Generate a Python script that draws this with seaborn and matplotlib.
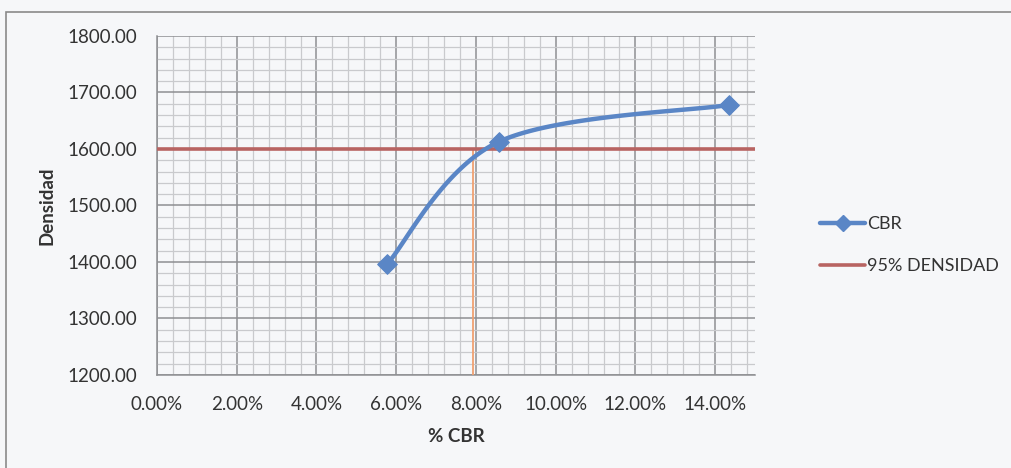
import numpy as np
import pandas as pd
import matplotlib
matplotlib.use("Agg")
import matplotlib.pyplot as plt
import seaborn as sns
from matplotlib.lines import Line2D
from matplotlib.patches import Rectangle
from matplotlib.ticker import MultipleLocator, FuncFormatter

# Ensayo CBR: porcentaje de CBR frente a densidad seca
cbr = [0.0578, 0.0858, 0.1435]
densidad = [1397.0, 1613.0, 1678.0]
densidad_95 = 1600.0
cbr_95 = 0.0793

x_ticks = [0.00, 0.02, 0.04, 0.06, 0.08, 0.10, 0.12, 0.14]
y_ticks = [1200, 1300, 1400, 1500, 1600, 1700, 1800]

serie_cbr = "CBR"
serie_95 = "95% DENSIDAD"

BLUE = "#5a86c6"
RED = "#b86462"
ORANGE = "#f0a070"
BG = "#f6f7f9"

sns.set_theme(style="white")
plt.rcParams["font.family"] = ["Lato", "DejaVu Sans"]

fig = plt.figure(figsize=(10.12, 4.68), dpi=100, facecolor=BG)
ax = fig.add_axes([157 / 1012, 1 - 375 / 468, (755 - 157) / 1012, (375 - 36) / 468])
ax.set_facecolor(BG)

x_lim = (0.0, 0.15)
y_lim = (1200, 1800)
ax.set_xlim(*x_lim)
ax.set_ylim(*y_lim)

# Curva suavizada (Bezier tipo Catmull-Rom en coordenadas normalizadas)
bbox = ax.get_position()
sx = bbox.width * 1012 / (x_lim[1] - x_lim[0])
sy = bbox.height * 468 / (y_lim[1] - y_lim[0])
P = np.column_stack([np.array(cbr) * sx, np.array(densidad) * sy])
ext = np.vstack([P[0], P, P[-1]])
curve = []
t = np.linspace(0, 1, 60)[:, None]
for i in range(len(P) - 1):
    p0, p1, p2, p3 = ext[i], ext[i + 1], ext[i + 2], ext[i + 3]
    c1 = p1 + (p2 - p0) / 6.0
    c2 = p2 - (p3 - p1) / 6.0
    seg = ((1 - t) ** 3) * p1 + 3 * ((1 - t) ** 2) * t * c1 + 3 * (1 - t) * t ** 2 * c2 + t ** 3 * p2
    curve.append(seg)
curve = np.vstack(curve)
df_curve = pd.DataFrame({"x": curve[:, 0] / sx, "y": curve[:, 1] / sy})

# Rejilla mayor y menor
ax.xaxis.set_major_locator(MultipleLocator(0.02))
ax.xaxis.set_minor_locator(MultipleLocator(0.004))
ax.yaxis.set_major_locator(MultipleLocator(100))
ax.yaxis.set_minor_locator(MultipleLocator(20))
ax.grid(which="minor", color="#c9cacd", linewidth=0.9)
ax.grid(which="major", color="#8e8f92", linewidth=1.1)
ax.set_axisbelow(True)

# Linea vertical al 95% de densidad
ax.plot([cbr_95, cbr_95], [y_lim[0], densidad_95], color=ORANGE, linewidth=1.3, zorder=3)
ax.axhline(densidad_95, color=RED, linewidth=2.6, zorder=3)

sns.lineplot(data=df_curve, x="x", y="y", sort=False, ax=ax, color=BLUE,
             linewidth=3.2, zorder=4, legend=False)
sns.scatterplot(x=cbr, y=densidad, ax=ax, marker="D", s=100, color=BLUE,
                edgecolor=BLUE, zorder=5, legend=False)

ax.set_xticks(x_ticks)
ax.set_yticks(y_ticks)
ax.xaxis.set_major_formatter(FuncFormatter(lambda v, p: f"{v * 100:.2f}%"))
ax.yaxis.set_major_formatter(FuncFormatter(lambda v, p: f"{v:.2f}"))
ax.tick_params(axis="both", which="major", labelsize=13.5, labelcolor="#333333",
               color="#8e8f92", length=5, width=1, direction="out")
ax.tick_params(axis="x", which="major", pad=10)
ax.tick_params(axis="y", which="major", pad=9)
ax.tick_params(axis="both", which="minor", length=0)

ax.set_xlabel("% CBR", fontsize=13.5, fontweight="bold", color="#333333", labelpad=11)
ax.set_ylabel("Densidad", fontsize=13.5, fontweight="bold", color="#333333", labelpad=9)

for side in ["top", "right"]:
    ax.spines[side].set_visible(False)
for side in ["left", "bottom"]:
    ax.spines[side].set_color("#8e8f92")
    ax.spines[side].set_linewidth(1.1)

handles = [
    Line2D([0], [0], color=BLUE, linewidth=3.2, marker="D", markersize=8,
           markerfacecolor=BLUE, markeredgecolor=BLUE),
    Line2D([0], [0], color=RED, linewidth=2.6),
]
fig.legend(handles, [serie_cbr, serie_95], loc="center left",
           bbox_to_anchor=(804 / 1012, 1 - 245 / 468), frameon=False,
           fontsize=13, handlelength=2.5, handletextpad=0.1, labelspacing=1.45,
           labelcolor="#333333")

# Marco exterior del grafico
fig.patches.append(Rectangle((6 / 1012, -0.05), 1.1, 1 - 12 / 468 + 0.05,
                             transform=fig.transFigure, fill=False,
                             edgecolor="#8a8a8a", linewidth=1.2))

fig.savefig("out.png", dpi=100, facecolor=BG)
